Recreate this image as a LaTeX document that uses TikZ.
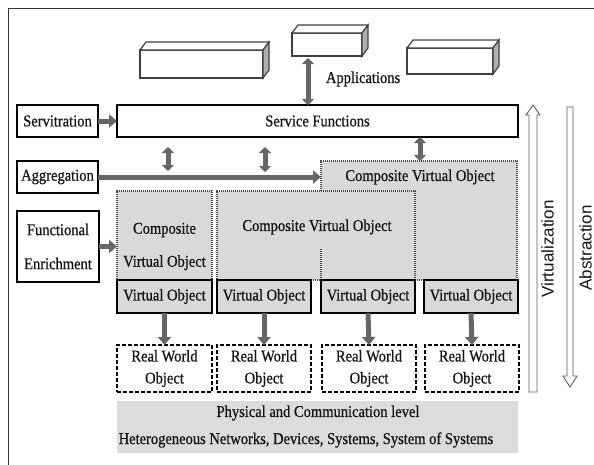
\documentclass[tikz,border=0pt]{standalone}
\usepackage{fontspec}
\setmainfont{Liberation Serif}[FakeStretch=0.88,FakeBold=0.7]
\newfontfamily\labsans{Liberation Sans}
\usetikzlibrary{arrows.meta,calc}
\definecolor{boxgray}{HTML}{D9D9D9}
\definecolor{physgray}{HTML}{DCDCDC}
\definecolor{arrgray}{HTML}{666666}
\definecolor{ink}{HTML}{141414}
\definecolor{dotgray}{HTML}{4A4A4A}
\definecolor{appline}{HTML}{404040}
\definecolor{sidegray}{HTML}{B0B0B0}
\definecolor{framecol}{HTML}{333333}
\begin{document}
\begin{tikzpicture}[x=1pt,y=-1pt,
  every node/.style={font=\fontsize{16.5}{20}\selectfont, text=ink, inner sep=0pt, outer sep=0pt},
  thickbox/.style={draw=black, line width=2.5pt, fill=white},
  cvobox/.style={draw=dotgray, line width=1.6pt, dash pattern=on 1.2pt off 0.8pt, fill=boxgray},
  cvoline/.style={draw=dotgray, line width=1.6pt, dash pattern=on 1.2pt off 0.8pt},
  vobox/.style={draw=black, line width=2.5pt, fill=boxgray, minimum width=94pt, minimum height=33pt},
  rwobox/.style={draw=black, line width=2pt, dash pattern=on 4pt off 2pt, fill=white, minimum width=94pt, minimum height=47pt, align=center, font=\fontsize{16.5}{22}\selectfont},
  appbox/.style={draw=appline, line width=1.2pt, fill=white},
  garrow/.style={draw=arrgray, line width=5pt, -{Triangle[length=8pt,width=13pt]}},
  gdarrow/.style={draw=arrgray, line width=5pt, {Triangle[length=6pt,width=12pt]}-{Triangle[length=6pt,width=12pt]}},
  outarrow/.style={draw=framecol!80, line width=0.9pt, fill=white},
  sidelabel/.style={rotate=90, font=\labsans\fontsize{17}{20}\selectfont}
]
\useasboundingbox (0,0) rectangle (594,464);
% frame
\coordinate (fr1) at (8,470);
\coordinate (fr2) at (8,8);
\coordinate (fr3) at (600,8);
\draw[framecol, line width=1pt] (fr1) -- (fr2) -- (fr3);

% applications
\node[appbox, minimum width=123pt, minimum height=28pt] (app1) at (201.5,64) {};
\node[appbox, minimum width=70pt, minimum height=23pt] (app2) at (327,44.5) {};
\node[appbox, minimum width=86pt, minimum height=26pt] (app3) at (450,61) {};
\foreach \n in {app1,app2,app3}{
  \draw[appbox] (\n.north west) -- ++(6,-8) -- ($(\n.north east)+(6,-8)$) -- (\n.north east) -- cycle;
  \draw[appbox, fill=sidegray] (\n.north east) -- ++(6,-8) -- ($(\n.south east)+(6,-8)$) -- (\n.south east) -- cycle;
}
\node[anchor=west] (appl) at (326,79) {Applications};

% left boxes and service functions
\node[thickbox, minimum width=401pt, minimum height=32pt] (serv) at (317.5,121) {Service Functions};
\node[thickbox, minimum width=81pt, minimum height=32pt] (servit) at (57.5,121) {Servitration};
\node[thickbox, minimum width=81pt, minimum height=32pt] (aggr) at (57.5,177) {Aggregation};
\node[thickbox, minimum width=82pt, minimum height=71pt, align=center, font=\fontsize{16.5}{34}\selectfont] (func) at (58,246.5) {Functional\\Enrichment};

% composite virtual objects
\node[cvobox, minimum width=196pt, minimum height=119pt] (cvoR) at (419,220.5) {};
\node (cvoRt) at (420,177) {Composite Virtual Object};
\node[cvobox, minimum width=198pt, minimum height=89pt] (cvoM) at (316,235.5) {};
\node (cvoMt) at (317,227) {Composite Virtual Object};
\node[cvobox, minimum width=95pt, minimum height=89pt] (cvoL) at (164.5,235.5) {};
\node[align=center, font=\fontsize{16.5}{33}\selectfont] (cvoLt) at (164.5,246.5) {Composite\\Virtual Object};
\coordinate (dl1) at (321,249);
\draw[cvoline] (dl1) -- (dl1 |- cvoM.south);

% virtual objects
\node[vobox, minimum width=95pt] (vo1) at (164.5,296.5) {Virtual Object};
\node[vobox] (vo2) at (264,296.5) {Virtual Object};
\node[vobox] (vo3) at (368,296.5) {Virtual Object};
\node[vobox] (vo4) at (471,296.5) {Virtual Object};

% real world objects
\node[rwobox, minimum width=95pt] (rwo1) at (164.5,368.5) {Real World\\Object};
\node[rwobox] (rwo2) at (264,368.5) {Real World\\Object};
\node[rwobox] (rwo3) at (369,368.5) {Real World\\Object};
\node[rwobox] (rwo4) at (472,368.5) {Real World\\Object};

% physical level
\node[fill=physgray, minimum width=401pt, minimum height=52pt] (phys) at (317.5,427) {};
\node (physA) at (318,413) {Physical and Communication level};
\node (physB) at (306,440) {Heterogeneous Networks, Devices, Systems, System of Systems};

% arrows
\draw[garrow] (servit.east) -- (serv.west);
\draw[garrow] (aggr.east) -- (aggr.east -| cvoR.west);
\draw[garrow] (func.east) -- (func.east -| cvoL.west);
\coordinate (appA) at (308,58);
\draw[gdarrow] (appA) -- (appA |- serv.north);
\coordinate (dA1) at (168,147);
\coordinate (dA2) at (168,171);
\draw[gdarrow] (dA1) -- (dA2);
\coordinate (dB1) at (265,147);
\coordinate (dB2) at (265,172);
\draw[gdarrow] (dB1) -- (dB2);
\draw[gdarrow] (cvoRt |- serv.south) -- (cvoRt |- cvoR.north);
\foreach \i in {1,...,4}{
  \draw[garrow] (vo\i.south) -- (rwo\i.north);
}

% virtualization / abstraction
\draw[outarrow] (529,392) -- (529,115) -- (526,115) -- (533,105) -- (540,115) -- (537,115) -- (537,392) -- cycle;
\node[sidelabel] (virt) at (547.5,249) {Virtualization};
\draw[outarrow] (567,107) -- (567,376) -- (563,376) -- (570,387) -- (577,376) -- (573,376) -- (573,107) -- cycle;
\node[sidelabel] (abst) at (585.5,248) {Abstraction};
\end{tikzpicture}
\end{document}
